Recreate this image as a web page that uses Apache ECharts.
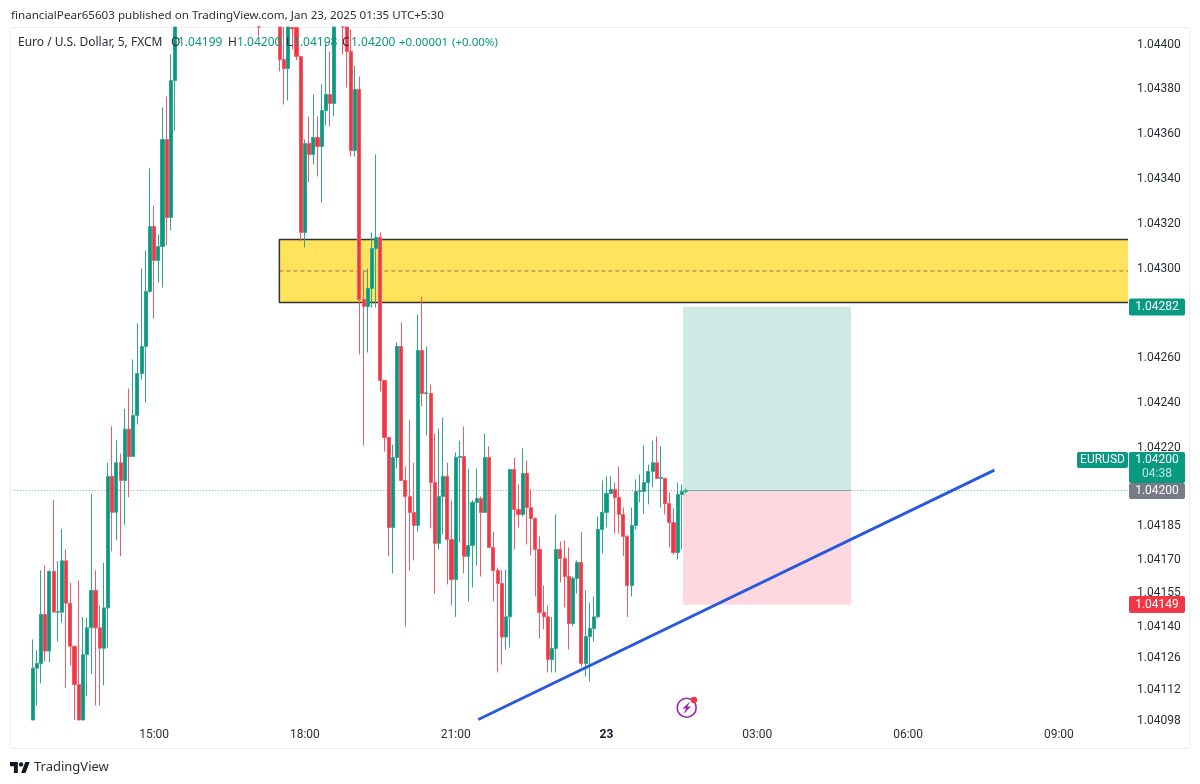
<!DOCTYPE html>
<html><head><meta charset="utf-8">
<style>html,body{margin:0;padding:0;background:#fff}#c{width:1200px;height:784px}</style>
<script src="https://cdn.jsdelivr.net/npm/echarts@6/dist/echarts.min.js"></script>
</head><body><div id="c"></div>
<script>
// 5-minute candles, 12:35 to 01:35; null = bar lies wholly above the visible range
const opens = [1.040933,1.041207,1.041228,1.041447,1.041283,1.041639,1.041457,1.041457,1.041686,1.041497,
1.041305,1.041134,1.040933,1.041267,1.041387,1.041554,1.041387,1.041296,1.041476,1.042063,
1.041903,1.042124,1.042045,1.042274,1.042152,1.042335,1.042522,1.042643,1.042888,1.043179,
1.043027,1.043089,1.043567,1.043219,1.043830,
null,null,null,null,null,null,null,null,null,null,null,null,null,null,null,null,null,null,null,
1.044250,null,null,null,null,
1.044200,1.043924,1.043884,1.044067,1.044067,1.043938,1.043152,1.043549,1.043500,1.043576,1.043536,
1.043696,1.043768,1.043728,null,1.044200,1.044150,1.043960,1.043518,1.043790,1.042853,
1.042822,1.042902,1.043080,1.043130,1.042491,1.042237,1.041835,1.042147,1.042643,1.042045,
1.041973,1.041902,1.041844,1.042625,1.042433,1.042433,1.042036,1.041764,1.041973,1.042063,
1.041781,1.041603,1.042147,1.042152,1.041706,1.041755,1.041947,1.041964,1.041902,1.042147,
1.041746,1.041643,1.041585,1.041346,1.041436,1.042094,1.041915,1.041893,1.042076,1.041924,
1.041875,1.041737,1.041456,1.041436,1.041246,1.041295,1.041737,1.041697,1.041616,1.041406,
1.041607,1.041679,1.041228,1.041348,1.041384,1.041436,1.041826,1.041902,1.041987,1.042005,
1.041969,1.041893,1.041795,1.041576,1.041844,1.041996,1.041996,1.042036,1.042085,1.042124,
1.042054,1.042054,1.041942,1.041857,1.041723,1.041982,1.041996];
const closes = [1.041207,1.041228,1.041447,1.041283,1.041639,1.041457,1.041460,1.041686,1.041497,1.041305,
1.041134,1.040933,1.041267,1.041387,1.041554,1.041387,1.041296,1.041476,1.042063,1.041903,
1.042124,1.042045,1.042274,1.042152,1.042335,1.042522,1.042643,1.042888,1.043179,1.043027,
1.043089,1.043567,1.043219,1.043830,1.044125,
null,null,null,null,null,null,null,null,null,null,null,null,null,null,null,null,null,null,null,
1.044200,null,null,null,null,
1.043924,1.043884,1.044150,1.044060,1.043938,1.043152,1.043549,1.043500,1.043576,1.043536,1.043696,
1.043768,1.043728,1.044100,null,1.044150,1.043960,1.043518,1.043790,1.042853,1.042822,
1.042902,1.043080,1.043130,1.042491,1.042237,1.041835,1.042147,1.042643,1.042045,1.041973,
1.041902,1.041844,1.042625,1.042433,1.042436,1.042036,1.041764,1.041973,1.042063,1.041781,
1.041603,1.042147,1.042152,1.041706,1.041755,1.041947,1.041964,1.041902,1.042147,1.041746,
1.041643,1.041585,1.041346,1.041436,1.042094,1.041915,1.041893,1.042076,1.041924,1.041875,
1.041737,1.041456,1.041436,1.041246,1.041295,1.041737,1.041697,1.041616,1.041406,1.041607,
1.041679,1.041228,1.041348,1.041384,1.041436,1.041826,1.041902,1.041987,1.042005,1.041969,
1.041893,1.041795,1.041576,1.041844,1.041996,1.042000,1.042036,1.042085,1.042124,1.042054,
1.042058,1.041942,1.041857,1.041723,1.041982,1.041996,1.042000];
const lows = [1.040889,1.041040,1.041139,1.041237,1.041232,1.041457,1.041327,1.041410,1.041119,1.041219,
1.040889,1.040889,1.040889,1.041082,1.041180,1.041040,1.041040,1.041130,1.041298,1.041728,
1.041778,1.041707,1.041847,1.041970,1.042152,1.042295,1.042496,1.042393,1.042884,1.042768,
1.042929,1.042906,1.043094,1.043161,1.043607,
null,null,null,null,null,null,null,null,null,null,null,null,null,null,null,null,null,null,null,
1.044027,null,null,null,null,
1.043871,1.043723,1.043741,1.043969,1.043921,1.043112,1.043085,1.043375,1.043455,1.043402,1.043286,
1.043629,1.043625,1.043670,null,1.043946,1.043799,1.043491,1.043491,1.042607,1.042201,
1.042616,1.042817,1.042817,1.042442,1.042174,1.041706,1.041630,1.042098,1.042045,1.041393,
1.041643,1.041688,1.041817,1.042375,1.042246,1.041831,1.041540,1.041737,1.041804,1.041581,
1.041487,1.041436,1.041768,1.041630,1.041505,1.041567,1.041665,1.041616,1.041902,1.041746,
1.041505,1.041188,1.041223,1.041290,1.041299,1.041737,1.041835,1.041884,1.041759,1.041710,
1.041527,1.041339,1.041380,1.041188,1.041188,1.041188,1.041590,1.041478,1.041290,1.041393,
1.041540,1.041214,1.041170,1.041147,1.041326,1.041429,1.041719,1.041835,1.041984,1.041808,
1.041808,1.041706,1.041436,1.041527,1.041826,1.041947,1.041897,1.041938,1.042014,1.042054,
1.041924,1.041893,1.041746,1.041714,1.041692,1.041737,1.041987];
const highs = [1.041335,1.041287,1.041644,1.041665,1.041644,1.041957,1.041685,1.041829,1.041737,1.041588,
1.041305,1.041598,1.041436,1.041432,1.041985,1.041644,1.041487,1.041677,1.042124,1.042287,
1.042225,1.042165,1.042365,1.042455,1.042585,1.042746,1.042991,1.043071,1.043438,1.043272,
1.043143,1.043710,1.043759,1.043946,1.044170,
null,null,null,null,null,null,null,null,null,null,null,null,null,null,null,null,null,null,null,
1.044300,null,null,null,null,
1.044250,1.044100,1.044200,1.044150,1.044100,1.043938,1.043567,1.043670,1.043768,1.043670,1.043813,
1.044000,1.043960,1.044150,null,1.044250,1.044200,1.044058,1.043897,1.043848,1.042982,
1.042991,1.043152,1.043500,1.043152,1.042491,1.042237,1.042205,1.042661,1.042750,1.042107,
1.042313,1.042124,1.042786,1.042866,1.042643,1.042473,1.042255,1.042277,1.042326,1.042124,
1.041955,1.042170,1.042223,1.042286,1.042098,1.041957,1.042098,1.041973,1.042255,1.042197,
1.041817,1.041656,1.041645,1.041645,1.042094,1.042147,1.042027,1.042188,1.042134,1.042005,
1.041880,1.041795,1.041576,1.041487,1.041436,1.041893,1.041772,1.041777,1.041746,1.041616,
1.041688,1.041813,1.041554,1.041500,1.041527,1.041884,1.042045,1.042063,1.042063,1.042036,
1.042107,1.041924,1.041800,1.041924,1.042049,1.042072,1.042201,1.042116,1.042223,1.042241,
1.042197,1.042058,1.041991,1.041920,1.042036,1.042027,1.042010];

const priceTicks = [1.04400,1.04380,1.04360,1.04340,1.04320,1.04300,1.04260,1.04240,1.04220,1.04185,1.04170,1.04155,1.04140,1.04126,1.04112,1.04098];
const timeTicks = ['15:00','18:00','21:00','23','03:00','06:00','09:00'];
const zoneTop = 1.043121, zoneMid = 1.04298, zoneBottom = 1.042839;
const entryPrice = 1.04200, targetPrice = 1.04282, stopPrice = 1.04149;
const trendStart = [110.4, 1.040978], trendEnd = [233.6, 1.042091];
const zoneFrom = 62.9, boxFrom = 159.3, boxTo = 199.4;
const axisMin = 1.0409755, axisMax = 1.0440692;

// category axis: 12:15 onward, one slot every five minutes
const slots = 266, leadSlots = 4, axisEnd = slots - 0.5;
const categories = [];
for (let i = 0; i < slots; i++) {
  const m = (12 * 60 + 15 + i * 5) % 1440;
  const hh = String(Math.floor(m / 60)).padStart(2, '0'), mm = String(m % 60).padStart(2, '0');
  categories.push(m === 0 ? '23' : hh + ':' + mm);
}
// the chart's pane cuts every bar at the edge of the price range
const inRange = v => Math.min(axisMax, Math.max(axisMin, v));
const candles = categories.map((_, i) => {
  const k = i - leadSlots;
  return (k >= 0 && k < opens.length && opens[k] != null)
    ? [inRange(opens[k]), inRange(closes[k]), inRange(lows[k]), inRange(highs[k])] : '-';
});

const UI = 'Roboto, "Noto Sans", sans-serif';
const HEAD = '"Noto Sans", sans-serif';
const GREEN = '#089981', RED = '#f23645', INK = '#2a2e39';

const overlayBase = {type: 'line', xAxisIndex: 1, yAxisIndex: 0, symbol: 'none', silent: true, animation: false};

function txt(x, y, text, fill, font, align) {
  return {type: 'text', x, y, z: 50, silent: true,
    style: {text, fill, font, textAlign: align || 'left', textVerticalAlign: 'middle'}};
}
function tag(x, y, w, h, fill, r) {
  return {type: 'rect', z: 45, silent: true, shape: {x, y, width: w, height: h, r: r || 2}, style: {fill}};
}
const headFont = '11.6px ' + HEAD, legFont = '12px ' + HEAD, chgFont = '11.5px ' + HEAD, tagFont = '12px ' + UI;

const graphics = [
  {type: 'rect', z: 1, silent: true, shape: {x: 10.5, y: 27.5, width: 1179, height: 721}, style: {fill: 'none', stroke: '#eceef2', lineWidth: 1}},
  txt(11, 16, 'financialPear65603 published on TradingView.com, Jan 23, 2025 01:35 UTC+5:30', '#2a2e39', headFont),
  txt(18, 43, 'Euro / U.S. Dollar, 5, FXCM', INK, legFont),
  txt(171, 43, 'O', INK, legFont), txt(178, 43, '1.04199', GREEN, legFont),
  txt(228, 43, 'H', INK, legFont), txt(237, 43, '1.04200', GREEN, legFont),
  txt(286, 43, 'L', INK, legFont), txt(293, 43, '1.04198', GREEN, legFont),
  txt(342, 43, 'C', INK, legFont), txt(351, 43, '1.04200', GREEN, legFont),
  txt(399, 43, '+0.00001', GREEN, chgFont), txt(452, 43, '(+0.00%)', GREEN, chgFont),
  tag(1129, 298.5, 56, 17, GREEN), txt(1157, 307, '1.04282', '#fff', tagFont, 'center'),
  tag(1129, 452, 56, 31, GREEN), txt(1157, 460, '1.04200', '#fff', tagFont, 'center'), txt(1157, 474, '04:38', 'rgba(255,255,255,.75)', tagFont, 'center'),
  tag(1077, 452, 51, 16, GREEN), txt(1102.5, 460, 'EURUSD', '#fff', tagFont, 'center'),
  tag(1129, 483, 56, 16, '#787b86'), txt(1157, 490.5, '1.04200', '#fff', tagFont, 'center'),
  tag(1129, 596, 56, 17, RED), txt(1157, 604.5, '1.04149', '#fff', tagFont, 'center'),
  // publication badge
  {type: 'circle', z: 40, silent: true, shape: {cx: 686.7, cy: 707.7, r: 9.5}, style: {fill: '#fff', stroke: '#9c27b0', lineWidth: 1.6}},
  {type: 'polygon', z: 41, silent: true, shape: {points: [[690, 701.5], [682.5, 708.5], [686, 708.5], [683.5, 714], [691, 706.5], [687.5, 706.5]]}, style: {fill: '#9c27b0'}},
  {type: 'circle', z: 42, silent: true, shape: {cx: 694, cy: 700, r: 3.2}, style: {fill: RED}},
  // footer logo
  {type: 'polygon', z: 40, silent: true, shape: {points: [[10, 762], [17.8, 762], [17.8, 773], [13.9, 773], [13.9, 766.3], [10, 766.3]]}, style: {fill: '#131722'}},
  {type: 'polygon', z: 40, silent: true, shape: {points: [[25.3, 762], [29.7, 762], [25.6, 773], [21.1, 773]]}, style: {fill: '#131722'}},
  {type: 'circle', z: 40, silent: true, shape: {cx: 21.1, cy: 764.4, r: 2.2}, style: {fill: '#131722'}},
  txt(34, 767, 'TradingView', '#2a2e39', '13px ' + HEAD)
];

const chart = echarts.init(document.getElementById('c'), null, {renderer: 'canvas'});
chart.setOption({
  animation: false,
  backgroundColor: '#fff',
  grid: {left: 13.8, top: 27, width: 1114.2, height: 693, containLabel: false},
  xAxis: [
    {type: 'category', data: categories, boundaryGap: true,
      axisLine: {show: false}, axisTick: {show: false}, splitLine: {show: false},
      axisLabel: {
        color: '#2a2e39', fontFamily: UI, fontSize: 12, margin: 9, hideOverlap: false,
        interval: (i, v) => timeTicks.includes(v),
        formatter: v => v === '23' ? '{b|23}' : v,
        rich: {b: {fontWeight: 'bold', fontFamily: UI, fontSize: 12, color: '#131722'}}
      }},
    {type: 'value', min: -0.5, max: axisEnd, show: false}
  ],
  yAxis: {
    type: 'value', position: 'right', min: axisMin, max: axisMax, scale: true,
    axisLine: {show: false}, axisTick: {show: false}, splitLine: {show: false},
    axisLabel: {customValues: priceTicks, fontFamily: UI, fontSize: 12, margin: 9,
      formatter: v => '{p|' + v.toFixed(5) + '}',
      rich: {p: {color: '#2a2e39', fontFamily: UI, fontSize: 12, padding: [4, 0, 0, 0]}}}
  },
  series: [
    {...overlayBase, name: 'zone', z: 1, data: [[axisEnd, zoneTop], [zoneFrom, zoneTop], [zoneFrom, zoneBottom], [axisEnd, zoneBottom]],
      lineStyle: {color: '#333', width: 1.5},
      markArea: {silent: true, itemStyle: {color: '#fee35c'}, data: [[{coord: [zoneFrom, zoneTop]}, {coord: [axisEnd, zoneBottom]}]]}},
    {...overlayBase, name: 'zoneMid', z: 2, data: [[zoneFrom, zoneMid], [axisEnd, zoneMid]],
      lineStyle: {color: '#a5443a', width: 1, opacity: 0.8, type: [4, 3]}},
    {...overlayBase, name: 'box', z: 1, data: [[boxFrom, entryPrice], [boxTo, entryPrice]],
      lineStyle: {color: '#8fa9a4', width: 1},
      markArea: {silent: true, data: [
        [{coord: [boxFrom, targetPrice], itemStyle: {color: '#cdeae4'}}, {coord: [boxTo, entryPrice]}],
        [{coord: [boxFrom, entryPrice], itemStyle: {color: '#fdd8de'}}, {coord: [boxTo, stopPrice]}]
      ]}},
    {...overlayBase, name: 'priceLine', z: 2, data: [[-0.5, entryPrice], [axisEnd, entryPrice]],
      lineStyle: {color: '#5fb8a8', width: 1, type: [1, 2]}},
    {type: 'candlestick', name: 'EURUSD', z: 5, data: candles, barWidth: 3.6, silent: true, animation: false,
      itemStyle: {color: GREEN, color0: RED, borderColor: '#2ea893', borderColor0: '#f35a67', borderWidth: 1}},
    {...overlayBase, name: 'trend', z: 8, data: [trendStart, trendEnd], lineStyle: {color: '#2858e0', width: 2.8}}
  ],
  graphic: graphics
});
</script></body></html>
